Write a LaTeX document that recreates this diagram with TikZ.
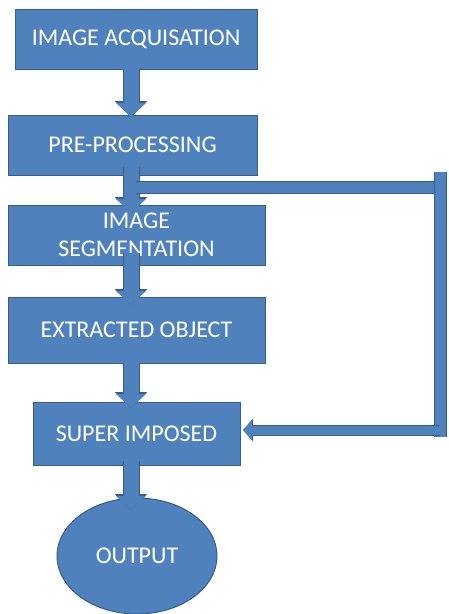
\documentclass[tikz,border=0pt]{standalone}
\usepackage{fontspec}
\setmainfont{Carlito}
\usetikzlibrary{arrows.meta,shapes.geometric}
\definecolor{boxblue}{HTML}{4F81BD}
\definecolor{boxedge}{HTML}{385D8A}
\tikzset{
  stepbox/.style={rectangle, fill=boxblue, draw=boxedge, line width=1pt,
    inner sep=0pt, outer sep=0pt, text=white, align=center,
    font=\fontsize{24}{30}\selectfont},
  endbox/.style={ellipse, fill=boxblue, draw=boxedge, line width=1pt,
    inner sep=0pt, outer sep=0pt, text=white,
    font=\fontsize{24}{30}\selectfont},
  barrow/.style={draw=boxblue, line width=15pt,
    -{Triangle[width=29pt,length=14pt]},
    preaction={draw=boxedge, line width=17pt, -{Triangle[width=32pt,length=16pt]}}},
  fbbar/.style={draw=boxblue, line width=11pt,
    preaction={draw=boxedge, line width=13pt}},
  fbarrow/.style={draw=boxblue, line width=9pt,
    -{Triangle[width=20pt,length=9pt]},
    preaction={draw=boxedge, line width=11pt, -{Triangle[width=22pt,length=10pt]}}}
}
\begin{document}
\begin{tikzpicture}[x=1pt,y=-1pt]
\useasboundingbox (0,0) rectangle (449,614);
\coordinate (col) at (131,0);
\node[stepbox, minimum width=242pt, minimum height=60pt] (acq) at (136,39) {IMAGE ACQUISATION};
\node[stepbox, minimum width=249pt, minimum height=60pt] (pre) at (132.5,145) {PRE-PROCESSING};
\node[stepbox, minimum width=257pt, minimum height=60pt] (seg) at (136.5,235) {IMAGE\\[-2pt]SEGMENTATION};
\node[stepbox, minimum width=257pt, minimum height=66pt] (ext) at (136.5,330) {EXTRACTED OBJECT};
\node[stepbox, minimum width=207pt, minimum height=63pt] (sup) at (136.5,433.5) {SUPER IMPOSED};
\node[endbox, minimum width=160pt, minimum height=116pt] (out) at (137,556) {OUTPUT};

\coordinate (fbA) at (136,187);
\coordinate (fbB) at (447,187);
\coordinate (fbC) at (440,172);
\coordinate (fbD) at (440,437);
\coordinate (fbE) at (440,430);

\draw[barrow] (acq.south -| col) -- ([yshift=-2pt]pre.north -| col);
\draw[barrow] ([yshift=8pt]pre.south -| col) -- ([yshift=-8pt]seg.north -| col);
\draw[fbbar] (fbA) -- (fbB);
\draw[fbbar] (fbC) -- (fbD);
\draw[fbarrow] (fbE) -- ([xshift=3pt]sup.east |- fbE);
\draw[barrow] ([yshift=12pt]seg.south -| col) -- ([yshift=-8pt]ext.north -| col);
\draw[barrow] (ext.south -| col) -- ([yshift=-6pt]sup.north -| col);
\draw[barrow] ([yshift=4pt]sup.south -| col) -- ([yshift=-12pt]out.north -| col);
\end{tikzpicture}
\end{document}
